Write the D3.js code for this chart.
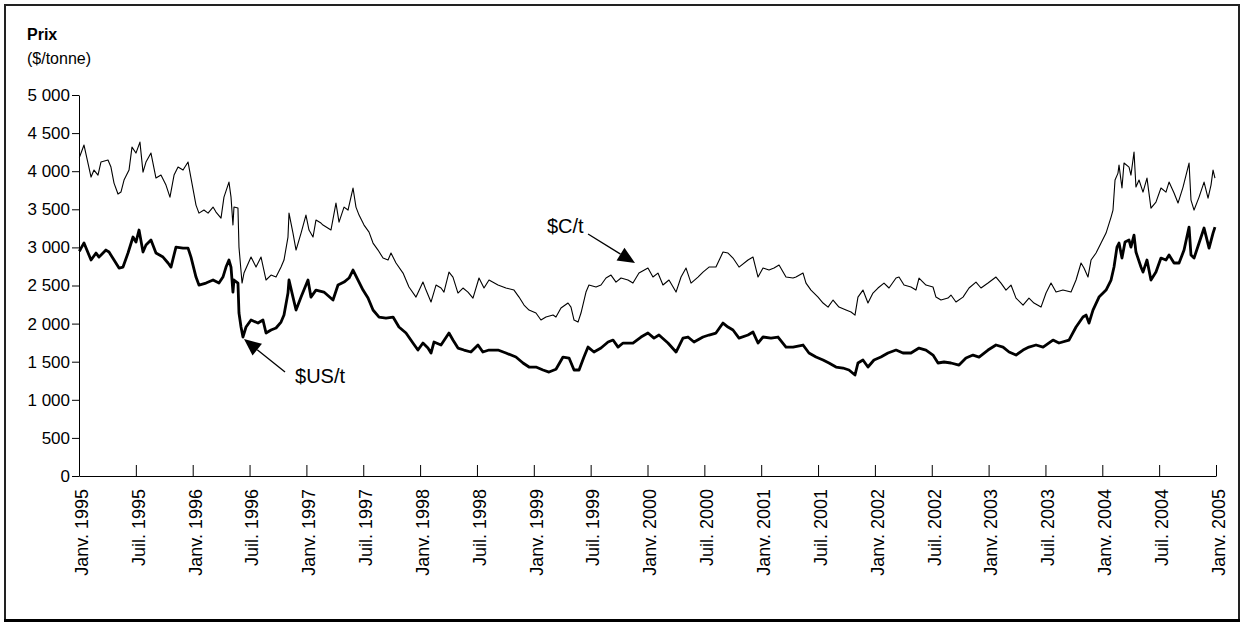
<!DOCTYPE html>
<html>
<head>
<meta charset="utf-8">
<script src="https://cdn.jsdelivr.net/npm/d3@7"></script>
<style>
body { margin: 0; background: #fff; }
svg { display: block; font-family: "Liberation Sans", Arial, sans-serif; }
</style>
</head>
<body>
<svg id="chart" width="1241" height="623"></svg>
<script>

// prix en $C par tonne (ligne mince) : [année décimale, valeur]
var cadSeries = [
	[1995.003,4180],[1995.018,4238],[1995.044,4343],[1995.106,3923],[1995.132,4015],[1995.167,3949],[1995.193,4120],[1995.255,4146],[1995.281,4054],[1995.308,3844],[1995.343,3700],[1995.369,3726],[1995.396,3883],[1995.440,4015],[1995.466,4316],[1995.501,4238],[1995.536,4382],[1995.563,3988],[1995.589,4120],[1995.633,4238],[1995.677,3910],[1995.721,3949],[1995.765,3818],[1995.800,3660],[1995.836,3949],[1995.871,4054],[1995.915,4015],[1995.959,4120],[1995.985,3910],
	[1996.029,3555],[1996.055,3450],[1996.099,3490],[1996.135,3450],[1996.179,3529],[1996.205,3464],[1996.249,3385],[1996.275,3660],[1996.319,3857],[1996.337,3660],[1996.354,3293],[1996.363,3529],[1996.398,3516],[1996.407,3004],[1996.434,2532],[1996.451,2663],[1996.513,2873],[1996.557,2742],[1996.601,2873],[1996.645,2572],[1996.689,2637],[1996.733,2611],[1996.777,2742],[1996.803,2834],[1996.838,3136],[1996.847,3450],[1996.882,3188],[1996.909,2965],[1996.953,3188],[1996.996,3424],
	[1997.023,3228],[1997.058,3136],[1997.084,3359],[1997.128,3319],[1997.146,3293],[1997.216,3228],[1997.260,3582],[1997.287,3332],[1997.331,3529],[1997.366,3490],[1997.410,3779],[1997.436,3529],[1997.463,3424],[1997.507,3293],[1997.551,3201],[1997.586,3057],[1997.630,2965],[1997.674,2860],[1997.718,2834],[1997.744,2926],[1997.788,2795],[1997.850,2663],[1997.902,2480],[1997.964,2348],
	[1998.025,2545],[1998.052,2440],[1998.096,2283],[1998.140,2506],[1998.184,2467],[1998.210,2414],[1998.254,2676],[1998.289,2611],[1998.333,2401],[1998.377,2467],[1998.421,2414],[1998.465,2335],[1998.518,2598],[1998.562,2467],[1998.606,2572],[1998.685,2506],[1998.755,2467],[1998.826,2440],[1998.870,2348],[1998.914,2243],[1998.958,2178],
	[1999.019,2139],[1999.063,2047],[1999.107,2086],[1999.169,2112],[1999.195,2086],[1999.239,2204],[1999.301,2270],[1999.327,2217],[1999.354,2047],[1999.389,2020],[1999.415,2139],[1999.459,2414],[1999.485,2506],[1999.547,2480],[1999.591,2506],[1999.635,2598],[1999.679,2637],[1999.723,2545],[1999.767,2598],[1999.828,2572],[1999.872,2532],[1999.925,2663],
	[2000.004,2729],[2000.048,2611],[2000.092,2663],[2000.136,2506],[2000.189,2572],[2000.251,2414],[2000.295,2611],[2000.339,2729],[2000.383,2532],[2000.444,2611],[2000.488,2676],[2000.541,2742],[2000.602,2742],[2000.664,2939],[2000.708,2926],[2000.752,2860],[2000.805,2742],[2000.884,2834],[2000.928,2873],[2000.972,2611],
	[2001.016,2729],[2001.069,2703],[2001.113,2729],[2001.157,2768],[2001.218,2611],[2001.280,2598],[2001.306,2611],[2001.368,2663],[2001.394,2532],[2001.438,2440],[2001.500,2348],[2001.544,2270],[2001.588,2217],[2001.632,2309],[2001.684,2217],[2001.746,2178],[2001.790,2152],[2001.825,2112],[2001.851,2348],[2001.895,2440],[2001.939,2270],[2001.983,2401],
	[2002.027,2467],[2002.080,2532],[2002.124,2467],[2002.186,2598],[2002.212,2611],[2002.256,2506],[2002.317,2480],[2002.361,2440],[2002.388,2598],[2002.449,2506],[2002.511,2480],[2002.537,2348],[2002.581,2309],[2002.643,2335],[2002.669,2375],[2002.713,2283],[2002.775,2348],[2002.828,2467],[2002.889,2545],[2002.933,2467],[2002.995,2532],
	[2003.065,2611],[2003.109,2532],[2003.153,2440],[2003.197,2506],[2003.241,2335],[2003.303,2243],[2003.355,2335],[2003.399,2270],[2003.461,2217],[2003.505,2401],[2003.549,2532],[2003.593,2414],[2003.654,2440],[2003.725,2414],[2003.769,2572],[2003.813,2795],[2003.839,2729],[2003.874,2611],[2003.901,2834],[2003.945,2926],[2003.989,3057],
	[2004.033,3188],[2004.077,3398],[2004.094,3490],[2004.112,3884],[2004.138,3975],[2004.147,4080],[2004.173,3779],[2004.191,4107],[2004.235,4054],[2004.252,3949],[2004.279,4251],[2004.296,3792],[2004.323,3884],[2004.358,3726],[2004.393,3910],[2004.428,3516],[2004.472,3595],[2004.516,3779],[2004.560,3726],[2004.587,3857],[2004.631,3713],[2004.666,3582],[2004.710,3792],[2004.763,4107],[2004.780,3621],[2004.807,3490],[2004.851,3660],[2004.895,3857],[2004.930,3647],[2004.956,3818],[2004.974,4015],[2004.991,3910]
];

// prix en $US par tonne (ligne épaisse)
var usdSeries = [
	[1995.003,2950],[1995.018,2991],[1995.044,3057],[1995.106,2834],[1995.150,2926],[1995.176,2873],[1995.237,2965],[1995.264,2939],[1995.308,2834],[1995.352,2729],[1995.387,2742],[1995.431,2926],[1995.475,3136],[1995.501,3070],[1995.528,3228],[1995.563,2939],[1995.589,3031],[1995.633,3096],[1995.677,2926],[1995.739,2873],[1995.783,2795],[1995.809,2742],[1995.853,3004],[1995.915,2991],[1995.959,2991],[1995.985,2873],
	[1996.029,2611],[1996.055,2506],[1996.117,2532],[1996.179,2572],[1996.231,2532],[1996.266,2611],[1996.293,2742],[1996.319,2834],[1996.337,2742],[1996.354,2414],[1996.363,2572],[1996.398,2532],[1996.407,2139],[1996.425,1955],[1996.442,1824],[1996.469,1955],[1996.513,2047],[1996.574,2007],[1996.618,2047],[1996.645,1876],[1996.689,1916],[1996.733,1942],[1996.777,2020],[1996.803,2112],[1996.838,2401],[1996.847,2572],[1996.882,2348],[1996.909,2178],[1996.953,2348],
	[1997.014,2572],[1997.040,2348],[1997.084,2440],[1997.154,2414],[1997.234,2309],[1997.278,2506],[1997.331,2545],[1997.375,2598],[1997.410,2703],[1997.454,2572],[1997.498,2440],[1997.542,2335],[1997.586,2178],[1997.639,2086],[1997.700,2073],[1997.762,2086],[1997.814,1955],[1997.876,1876],[1997.937,1745],[1997.981,1653],
	[1998.025,1745],[1998.069,1679],[1998.096,1614],[1998.122,1758],[1998.184,1719],[1998.254,1876],[1998.289,1784],[1998.333,1679],[1998.386,1653],[1998.447,1627],[1998.509,1719],[1998.552,1627],[1998.606,1653],[1998.685,1653],[1998.755,1614],[1998.843,1561],[1998.905,1483],[1998.958,1430],
	[1999.019,1430],[1999.081,1391],[1999.134,1364],[1999.195,1400],[1999.257,1561],[1999.310,1548],[1999.354,1391],[1999.398,1391],[1999.441,1561],[1999.477,1692],[1999.529,1627],[1999.591,1679],[1999.653,1758],[1999.697,1784],[1999.741,1692],[1999.785,1745],[1999.872,1745],[1999.943,1824],
	[2000.004,1876],[2000.057,1810],[2000.101,1850],[2000.180,1745],[2000.251,1627],[2000.312,1810],[2000.356,1824],[2000.409,1758],[2000.488,1824],[2000.541,1850],[2000.602,1876],[2000.664,2007],[2000.708,1955],[2000.752,1916],[2000.805,1810],[2000.884,1850],[2000.928,1889],[2000.972,1745],
	[2001.016,1824],[2001.086,1810],[2001.148,1824],[2001.218,1692],[2001.280,1692],[2001.368,1719],[2001.420,1614],[2001.482,1561],[2001.544,1522],[2001.596,1483],[2001.658,1430],[2001.719,1417],[2001.772,1391],[2001.825,1325],[2001.851,1483],[2001.895,1522],[2001.939,1430],[2001.992,1522],
	[2002.053,1561],[2002.115,1614],[2002.186,1653],[2002.247,1614],[2002.317,1614],[2002.388,1679],[2002.449,1653],[2002.511,1587],[2002.555,1483],[2002.608,1496],[2002.669,1483],[2002.740,1456],[2002.801,1548],[2002.863,1587],[2002.916,1561],[2002.995,1653],
	[2003.065,1719],[2003.127,1692],[2003.180,1627],[2003.241,1587],[2003.303,1653],[2003.355,1692],[2003.417,1719],[2003.479,1692],[2003.566,1784],[2003.619,1745],[2003.707,1784],[2003.769,1955],[2003.830,2086],[2003.857,2112],[2003.883,2007],[2003.918,2178],[2003.971,2348],
	[2004.033,2440],[2004.077,2572],[2004.103,2742],[2004.129,3004],[2004.147,3057],[2004.173,2860],[2004.200,3070],[2004.235,3096],[2004.252,3004],[2004.279,3162],[2004.296,2939],[2004.340,2742],[2004.358,2676],[2004.393,2834],[2004.428,2572],[2004.472,2676],[2004.516,2860],[2004.560,2834],[2004.587,2900],[2004.631,2795],[2004.675,2795],[2004.719,2965],[2004.763,3267],[2004.780,2900],[2004.807,2860],[2004.851,3057],[2004.895,3254],[2004.939,2991],[2004.974,3188],[2004.991,3267]
];

// axe X : positions (années) et étiquettes
var xTickYears = [1995,1995.5,1996,1996.5,1997,1997.5,1998,1998.5,1999,1999.5,2000,2000.5,2001,2001.5,2002,2002.5,2003,2003.5,2004,2004.5,2005];
var xTickLabels = ["Janv. 1995","Juil. 1995","Janv. 1996","Juil. 1996","Janv. 1997","Juil. 1997","Janv. 1998","Juil. 1998","Janv. 1999","Juil. 1999","Janv. 2000","Juil. 2000","Janv. 2001","Juil. 2001","Janv. 2002","Juil. 2002","Janv. 2003","Juil. 2003","Janv. 2004","Juil. 2004","Janv. 2005"];

// axe Y
var yTicks = [0,500,1000,1500,2000,2500,3000,3500,4000,4500,5000];

// étiquettes fléchées (en unités de données)
var callouts = [
	{ text: "$US/t", at: [1996.900, 1220], from: [1996.812, 1364], to: [1996.451, 1797] },
	{ text: "$C/t",  at: [1999.116, 3188], from: [1999.477, 3175], to: [1999.890, 2795] }
];


/*
 *	PROPRIÉTÉS
 */
var W = 1241, H = 623;
var margin = { top: 95, right: 25, bottom: 147, left: 79 };

var svg = d3.select("#chart");

var x = d3.scaleLinear()
	.domain([1995, 2005])
	.range([margin.left, W - margin.right]);

var y = d3.scaleLinear()
	.domain([0, 5000])
	.range([H - margin.bottom, margin.top]);	// 0 -> 476

var frLocale = d3.formatLocale({ decimal: ",", thousands: "\u00a0", grouping: [3], currency: ["", " $"] });
var fmt = frLocale.format(",d");

// cadre
svg.append("rect")
	.attr("x", 5).attr("y", 5)
	.attr("width", 1234).attr("height", 615)
	.attr("fill", "none")
	.attr("stroke", "#222")
	.attr("stroke-width", 2);
svg.append("line")
	.attr("x1", 4).attr("x2", 1240)
	.attr("y1", 620.5).attr("y2", 620.5)
	.attr("stroke", "#000")
	.attr("stroke-width", 3);

// titres
svg.append("text")
	.attr("x", 27).attr("y", 40)
	.style("font-size", "16px")
	.style("font-weight", "bold")
	.text("Prix");
svg.append("text")
	.attr("x", 27).attr("y", 64)
	.style("font-size", "16px")
	.text("($/tonne)");

// axe Y
var yAxis = d3.axisLeft(y)
	.tickValues(yTicks)
	.tickFormat(fmt)
	.tickSizeInner(7)
	.tickSizeOuter(0)
	.tickPadding(2);

svg.append("g")
	.attr("class", "y axis")
	.attr("transform", "translate(" + margin.left + ",0)")
	.call(yAxis)
	.call(function(g){
		g.selectAll("text").style("font-size", "17px").attr("fill", "#000").attr("font-family", null);
		g.selectAll("line, path").attr("stroke", "#000");
	});

// axe X
var xAxis = d3.axisBottom(x)
	.tickValues(xTickYears)
	.tickFormat(function(d, i){ return xTickLabels[i]; })
	.tickSizeInner(-11)
	.tickSizeOuter(0);

svg.append("g")
	.attr("class", "x axis")
	.attr("transform", "translate(0," + y(0) + ")")
	.call(xAxis)
	.call(function(g){
		g.selectAll("line, path").attr("stroke", "#000");
		g.selectAll("text")
			.style("font-size", "18px")
			.attr("fill", "#000")
			.attr("font-family", null)
			.attr("text-anchor", "end")
			.attr("transform", "rotate(-90)")
			.attr("x", -13)
			.attr("y", 2)
			.attr("dy", "0.35em");
	});

// courbes
var line = d3.line()
	.x(function(d){ return x(d[0]); })
	.y(function(d){ return y(d[1]); });

svg.append("path")
	.datum(cadSeries)
	.attr("fill", "none")
	.attr("stroke", "#000")
	.attr("stroke-width", 1.1)
	.attr("stroke-linejoin", "round")
	.attr("d", line);

svg.append("path")
	.datum(usdSeries)
	.attr("fill", "none")
	.attr("stroke", "#000")
	.attr("stroke-width", 2.8)
	.attr("stroke-linejoin", "round")
	.attr("d", line);

// étiquettes + flèches
var headLen = 17, headHalf = 7.5;
callouts.forEach(function(c){
	var x1 = x(c.from[0]), y1 = y(c.from[1]);
	var x2 = x(c.to[0]),   y2 = y(c.to[1]);
	var dx = x2 - x1, dy = y2 - y1, len = Math.sqrt(dx*dx + dy*dy);
	var ux = dx / len, uy = dy / len;
	var bx = x2 - ux * headLen, by = y2 - uy * headLen;

	svg.append("line")
		.attr("x1", x1).attr("y1", y1)
		.attr("x2", bx).attr("y2", by)
		.attr("stroke", "#000")
		.attr("stroke-width", 1.3);

	svg.append("polygon")
		.attr("points", [
			[x2, y2],
			[bx - uy * headHalf, by + ux * headHalf],
			[bx + uy * headHalf, by - ux * headHalf]
		].map(function(p){ return p.join(","); }).join(" "))
		.attr("fill", "#000");

	svg.append("text")
		.attr("x", x(c.at[0])).attr("y", y(c.at[1]))
		.style("font-size", "20px")
		.text(c.text);
});

</script>
</body>
</html>
